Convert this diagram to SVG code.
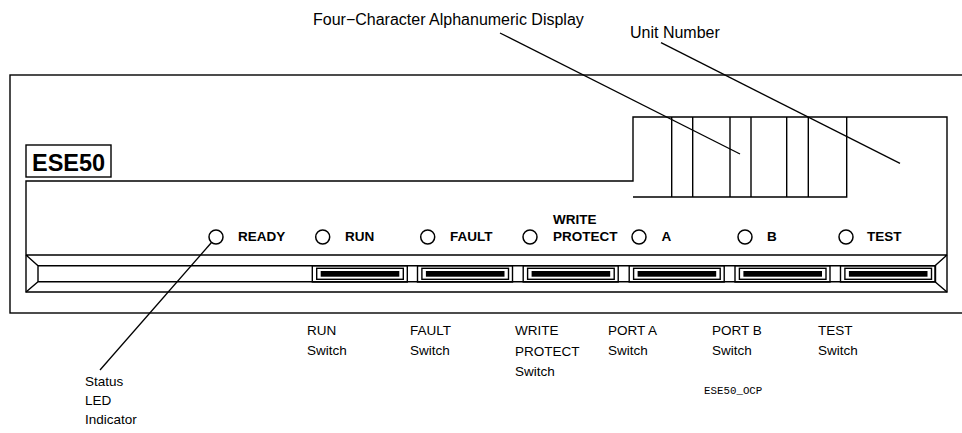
<svg xmlns="http://www.w3.org/2000/svg" width="962" height="433" viewBox="0 0 962 433">
<defs>
<style>
.ln{fill:none;stroke:#000;stroke-width:1.4}
.led{fill:#fff;stroke:#000;stroke-width:1.5}
.lab{font-family:"Liberation Sans",Arial,sans-serif;font-size:13.5px;font-weight:bold;fill:#000}
.cap{font-family:"Liberation Sans",Arial,sans-serif;font-size:13.5px;fill:#000}
.top{font-family:"Liberation Sans",Arial,sans-serif;font-size:16px;fill:#000}
.lead{fill:none;stroke:#000;stroke-width:1.3}
</style>
<g id="sw">
<rect class="ln" x="0" y="0" width="95" height="16.3" fill="#fff"/>
<rect class="ln" x="4.4" y="2.6" width="86.6" height="11"/>
<rect x="8.4" y="5.3" width="78.6" height="5.7" fill="#000"/>
</g>
</defs>
<rect width="962" height="433" fill="#fff"/>
<g id="chassis">
<rect class="ln" x="10" y="75" width="980" height="238"/>
</g>
<g id="panel">
<path class="ln" d="M26,181 H633 V117 H947 V292 H26 Z"/>
<path class="ln" d="M26,255 H947 M38,265.7 H935 M38,281.7 H935 M38,265.7 V281.7 M935,265.7 V281.7 M26,255 L38,265.7 M26,292 L38,281.7 M947,255 L935,265.7 M947,292 L935,281.7"/>
</g>
<g id="model-label">
<rect class="ln" x="26" y="145" width="85" height="32"/>
<text x="32" y="171" font-family="'Liberation Sans',Arial,sans-serif" font-size="23.5" font-weight="bold">ESE50</text>
</g>
<g id="display">
<path class="ln" d="M633,197 H846.7 V117 M671.7,117 V197 M692.7,117 V197 M730,117 V197 M751,117 V197 M786.7,117 V197 M808.3,117 V197"/>
</g>
<g id="leds">
<g id="led-ready"><circle class="led" cx="216" cy="237" r="7"/><text class="lab" x="238" y="241">READY</text></g>
<g id="led-run"><circle class="led" cx="322.7" cy="237" r="7"/><text class="lab" x="345" y="241">RUN</text></g>
<g id="led-fault"><circle class="led" cx="427.7" cy="237" r="7"/><text class="lab" x="450" y="241">FAULT</text></g>
<g id="led-wp"><circle class="led" cx="530" cy="237" r="7"/><text class="lab" x="553" y="224">WRITE</text><text class="lab" x="553" y="241">PROTECT</text></g>
<g id="led-a"><circle class="led" cx="639" cy="237" r="7"/><text class="lab" x="661.5" y="241">A</text></g>
<g id="led-b"><circle class="led" cx="745" cy="237" r="7"/><text class="lab" x="767" y="241">B</text></g>
<g id="led-test"><circle class="led" cx="846" cy="237" r="7"/><text class="lab" x="867" y="241">TEST</text></g>
</g>
<g id="switches">
<use id="sw-run" href="#sw" x="312.3" y="265.7"/>
<use id="sw-fault" href="#sw" x="417.5" y="265.7"/>
<use id="sw-wp" href="#sw" x="523.2" y="265.7"/>
<use id="sw-a" href="#sw" x="629.2" y="265.7"/>
<use id="sw-b" href="#sw" x="735" y="265.7"/>
<use id="sw-test" href="#sw" x="840.5" y="265.7"/>
</g>
<g id="connectors">
<line class="lead" x1="211.5" y1="242.5" x2="100" y2="370"/>
<line class="lead" x1="500" y1="33" x2="740" y2="154"/>
<line class="lead" x1="661" y1="42.7" x2="900" y2="163.3"/>
</g>
<g id="callouts">
<text class="top" x="313" y="25">Four−Character Alphanumeric Display</text>
<text class="top" x="630" y="38">Unit Number</text>
<text class="cap" x="307" y="335">RUN</text><text class="cap" x="307" y="355">Switch</text>
<text class="cap" x="410" y="335">FAULT</text><text class="cap" x="410" y="355">Switch</text>
<text class="cap" x="515" y="335">WRITE</text><text class="cap" x="515" y="356">PROTECT</text><text class="cap" x="515" y="376">Switch</text>
<text class="cap" x="608" y="335">PORT A</text><text class="cap" x="608" y="355">Switch</text>
<text class="cap" x="712" y="335">PORT B</text><text class="cap" x="712" y="355">Switch</text>
<text class="cap" x="818" y="335">TEST</text><text class="cap" x="818" y="355">Switch</text>
<text class="cap" x="85" y="386">Status</text><text class="cap" x="85" y="405">LED</text><text class="cap" x="85" y="424">Indicator</text>
<text x="704" y="394" font-family="'Liberation Mono','Courier New',monospace" font-size="10.8">ESE50_OCP</text>
</g>
</svg>
